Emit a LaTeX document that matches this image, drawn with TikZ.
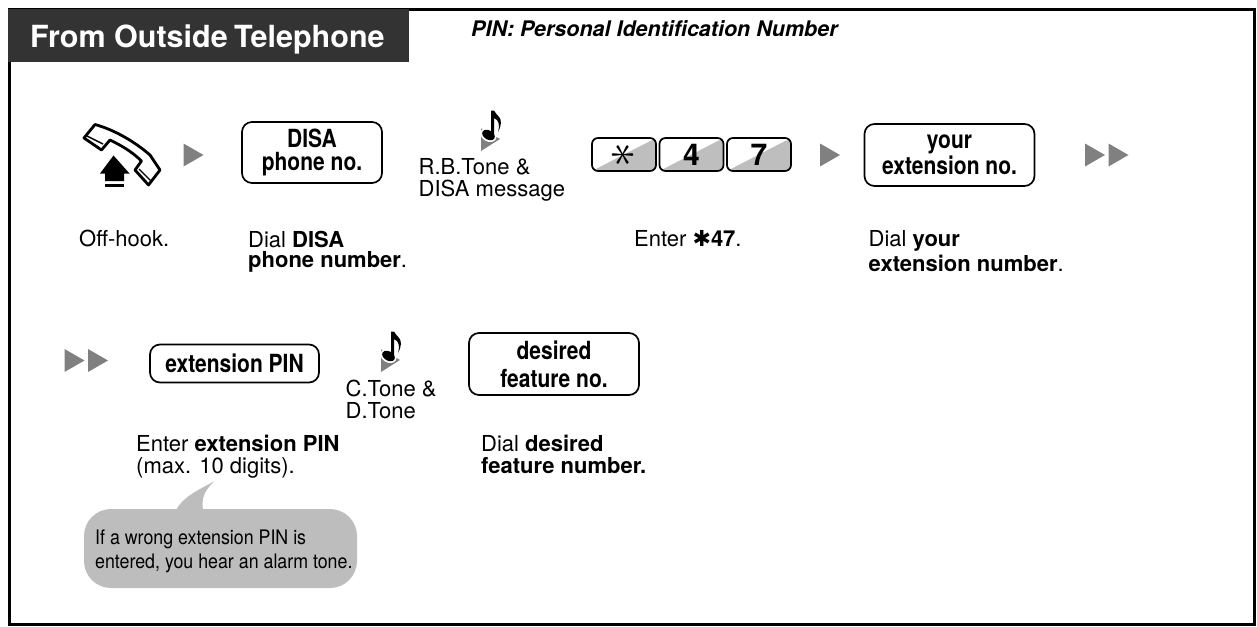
\documentclass[tikz,border=0pt]{standalone}
\usepackage{graphicx}
\usepackage{fontspec}
\usetikzlibrary{positioning}
\setmainfont{TeX Gyre Heros}
\newfontfamily\dejavu{DejaVu Sans}
\newfontfamily\condbold[FakeStretch=0.84,BoldFont={TeX Gyre Heros Bold}]{TeX Gyre Heros Bold}
\newfontfamily\condplain[FakeStretch=0.89]{TeX Gyre Heros}
\definecolor{headdark}{HTML}{333333}
\definecolor{markgrey}{HTML}{808080}
\definecolor{keygrey}{HTML}{BEBEBE}
\definecolor{bubblegrey}{HTML}{BDBDBD}
\tikzset{
	caption/.style={inner sep=0pt,anchor=base west,align=left,font=\fontsize{22}{22}\selectfont},
	dialbox/.style={draw,line width=1.7pt,rounded corners=10pt,inner sep=0pt,align=center,font=\fontsize{25}{26}\selectfont\condbold},
	keycap/.style={draw,line width=1.7pt,rounded corners=6pt,inner sep=0pt,minimum width=64pt,minimum height=33pt,
		font=\fontsize{30}{30}\selectfont\bfseries,
		path picture={\fill[keygrey] (path picture bounding box.south west) -- (path picture bounding box.north east) -- (path picture bounding box.south east) -- cycle;}},
	playmark/.pic={\fill[markgrey] (0,-11.5) -- (20,0) -- (0,11.5) -- cycle;},
	tonemark/.pic={
		\fill[markgrey] (0,-10.7) -- (0,12) -- (19,0) -- cycle;
		\fill[white,rotate around={-30:(7.5,-4)}] (7.5,-4) ellipse (8.5 and 6.5);
		\fill[black,rotate around={-30:(7.5,-4)}] (7.5,-4) ellipse (6.8 and 4.6);
		\fill[black] (10,-4) -- (10,-28.5) -- (13,-28.5) .. controls (14,-24) and (25,-22) .. (17,-7) .. controls (19,-14) and (18,-19) .. (13,-21) -- (13,-4) -- cycle;
	}
}
\begin{document}
\begin{tikzpicture}[x=1pt,y=-1pt]
	\useasboundingbox (0,0) rectangle (1257,626);

	\draw[line width=3pt] (9.5,9.5) rectangle (1254,624.5);
	\node[fill=headdark,inner sep=0pt,minimum width=401pt,minimum height=53pt] (head) at (208.5,35.5) {};
	\node[text=white,font=\fontsize{30.5}{30}\selectfont\bfseries,inner sep=0pt,anchor=base west] (title) at (30,48) {From Outside\hspace{-2pt} Telephone};
	\node[inner sep=0pt,anchor=base west,font=\fontsize{21.5}{22}\selectfont\bfseries\itshape] (pinnote) at (471,36.5) {PIN: Personal Identification Number};

	% off-hook handset
	\draw[line width=2.8pt,line join=round,fill=white] (84,138) -- (95,124.5) .. controls (115,130) and (135,142) .. (150,155) -- (160,170) -- (148.5,185) -- (135,170) -- (141.5,161) .. controls (130,150) and (120,145) .. (110,140) -- (101.5,150) -- cycle;
	\draw[line width=1.4pt] (87,136) -- (103,144);
	\draw[line width=1.4pt] (139,169) -- (151,181);
	\fill (113.5,155.5) -- (129.5,173.5) -- (124,173.5) -- (124,181) -- (105,181) -- (105,173.5) -- (100,173.5) -- cycle;
	\fill (105,184) rectangle (124,186.5);

	\pic at (183.5,155) {playmark};
	\node[dialbox,minimum width=140pt,minimum height=61pt] (disano) at (312,152.5) {DISA\\[-3pt]phone no.};

	\pic at (481,139) {tonemark};
	\node[caption] (rbtone) at (418.5,196.5) {R.B.Tone \&\\DISA message};

	\node[keycap] (keystar) at (624,154.5) {};
	\node[keycap,right=1.8pt of keystar] (keyfour) {4};
	\node[keycap,right=1.8pt of keyfour] (keyseven) {7};
	\node[inner sep=0pt,rotate=90] (starmark) at (keystar) {\scalebox{5}{$\ast$}};

	\pic at (820,155) {playmark};
	\node[dialbox,minimum width=170pt,minimum height=62pt] (yourno) at (949.5,155) {your\\extension no.};
	\pic at (1085,155) {playmark};
	\pic at (1108.5,155) {playmark};

	\node[caption] (offhook) at (79,246.5) {Off-hook.};
	\node[caption] (dialdisa) at (248,267.5) {Dial \textbf{DISA}\\[-1.5pt]\textbf{phone number}.};
	\node[caption] (enterstar) at (634,246.5) {Enter {\dejavu\bfseries ✱}\textbf{47}.};
	\node[caption] (dialyour) at (868.5,271.5) {Dial \textbf{your}\\[3pt]\textbf{extension number}.};

	\pic at (64.5,360.5) {playmark};
	\pic at (88,360.5) {playmark};
	\node[dialbox,minimum width=169pt,minimum height=38pt] (pinbox) at (234.5,363.5) {extension PIN};

	\pic at (381,360) {tonemark};
	\node[caption] (ctone) at (345.5,418.5) {C.Tone \&\\D.Tone};

	\node[dialbox,minimum width=170pt,minimum height=62pt] (desired) at (554,364) {desired\\[2pt]feature no.};

	\node[caption] (enterpin) at (136,473) {Enter \textbf{extension PIN}\\(max. 10 digits).};
	\node[caption] (dialdesired) at (481,473) {Dial \textbf{desired}\\\textbf{feature number.}};

	% alarm tone balloon
	\fill[bubblegrey] (176,510) .. controls (183,497) and (198,490) .. (214,481.5) .. controls (205,490) and (201,498) .. (203,510) -- cycle;
	\node[fill=bubblegrey,rounded corners=27pt,inner sep=0pt,minimum width=273pt,minimum height=79pt] (balloon) at (220.5,548.5) {};
	\node[inner sep=0pt,anchor=base west,align=left,font=\fontsize{20}{24}\selectfont\condplain] (balloontext) at (95,568) {If a wrong extension PIN is\\entered, you hear an alarm tone.};
\end{tikzpicture}
\end{document}
